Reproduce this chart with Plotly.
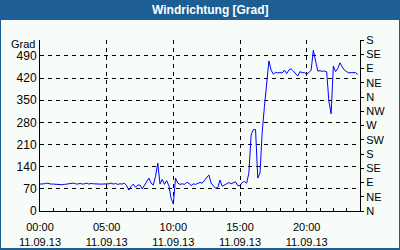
import pandas as pd
import plotly.graph_objects as go

# ---- data ----
start_time = "2013-09-11 00:00"
n_points = 144  # 10-minute samples
wind_dir_deg = [
    85, 85, 86, 88, 86, 85, 85, 84, 84, 83,
    83, 84, 85, 85, 86, 88, 86, 85, 87, 85,
    86, 88, 85, 87, 86, 85, 84, 85, 85, 85,
    84, 86, 88, 85, 87, 84, 86, 85, 88, 80,
    66, 78, 85, 75, 82,
    82, 70, 80, 90, 104,
    88, 82, 110, 151, 85, 100, 84, 96, 80, 40,
    22, 104, 88, 84, 86, 84, 90, 88, 80, 86,
    84, 86, 90, 88, 96, 106, 114, 88, 80, 72,
    74, 98, 78, 82, 84, 90, 86, 88, 92, 80,
    80, 90, 93, 88, 120, 240, 257, 257, 104, 120,
    250, 330, 405, 474, 445, 432, 438, 436, 437, 436,
    445, 434, 445, 449, 442, 433, 426, 440, 437, 437,
    433, 437, 445, 507, 468, 442, 443, 441, 442, 440,
    347, 307, 458, 440, 450, 468, 455, 445, 440, 436,
    437, 436, 437, 431,
]
times = pd.date_range(start_time, periods=n_points, freq="10min")

x_tick_vals = ["2013-09-11 00:00", "2013-09-11 05:00", "2013-09-11 10:00",
               "2013-09-11 15:00", "2013-09-11 20:00"]
x_tick_text = ["00:00<br>11.09.13", "05:00<br>11.09.13", "10:00<br>11.09.13",
               "15:00<br>11.09.13", "20:00<br>11.09.13"]
y_tick_vals = [0, 70, 140, 210, 280, 350, 420, 490]
y2_tick_vals = [0, 45, 90, 135, 180, 225, 270, 315, 360, 405, 450, 495, 540]
y2_tick_text = ["N", "NE", "E", "SE", "S", "SW", "W", "NW", "N", "NE", "E", "SE", "S"]

title_text = "Windrichtung [Grad]"
unit_text = "Grad"

# ---- figure ----
W, H = 400, 250
L, R, T, B = 40, 40, 40, 39
pw, ph = W - L - R, H - T - B


def px(X):
    return (X - L) / pw


def py(Y):
    return (H - B - Y) / ph


BLUE = "#1d5e95"
BG = "#f8fcf8"
FONT = "Liberation Sans"

fig = go.Figure()
fig.add_trace(go.Scatter(x=times, y=wind_dir_deg, mode="lines",
                         line=dict(color="#0000ff", width=1), showlegend=False,
                         hoverinfo="skip"))
# invisible trace to activate y2
fig.add_trace(go.Scatter(x=[times[0]], y=[0], yaxis="y2", mode="markers",
                         marker=dict(opacity=0), showlegend=False, hoverinfo="skip"))

fig.update_layout(
    width=W, height=H,
    margin=dict(l=L, r=R, t=T, b=B, pad=0, autoexpand=False),
    paper_bgcolor=BLUE,
    plot_bgcolor=BG,
    font=dict(family=FONT, size=11, color="black"),
    xaxis=dict(
        type="date",
        range=["2013-09-11 00:00", "2013-09-12 00:00"],
        tickvals=x_tick_vals, ticktext=x_tick_text,
        showgrid=True, gridcolor="black", griddash="4px,4px", gridwidth=1,
        showline=True, linecolor="black", linewidth=1,
        ticks="inside", ticklen=3, tickcolor="black",
        minor=dict(dtick=3600000, ticks="inside", ticklen=3, tickcolor="black", showgrid=False),
        tickfont=dict(size=11),
        ticklabelstandoff=6,
        automargin=False,
        zeroline=False, fixedrange=True,
    ),
    yaxis=dict(
        range=[0, 540],
        tickvals=y_tick_vals,
        showgrid=True, gridcolor="black", griddash="4px,4px", gridwidth=1,
        showline=True, linecolor="black", linewidth=1,
        ticks="", tickfont=dict(size=12),
        automargin=False,
        zeroline=False, fixedrange=True,
    ),
    yaxis2=dict(
        range=[0, 540], overlaying="y", side="right",
        tickvals=y2_tick_vals, ticktext=y2_tick_text,
        showgrid=False, showline=True, linecolor="black", linewidth=1,
        ticks="outside", ticklen=3, tickcolor="black",
        tickfont=dict(size=11),
        automargin=False,
        zeroline=False, fixedrange=True,
    ),
    shapes=[dict(type="rect", xref="paper", yref="paper",
                 x0=px(1), x1=px(399), y0=py(248), y1=py(20),
                 fillcolor=BG, line=dict(width=0), layer="below")],
    annotations=[
        dict(text="<b>" + title_text + "</b>", xref="paper", yref="paper",
             x=px(210), y=py(10), xanchor="center", yanchor="middle",
             showarrow=False, font=dict(family=FONT, size=12, color="white")),
        dict(text=unit_text, xref="paper", yref="paper",
             x=px(37), y=py(44), xanchor="right", yanchor="middle",
             showarrow=False, font=dict(family=FONT, size=11, color="black")),
    ],
)

fig.write_html("out.html", config=dict(displayModeBar=False))
